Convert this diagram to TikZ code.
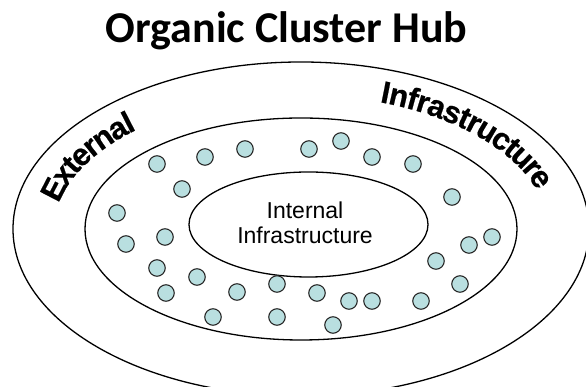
\documentclass[tikz,border=0pt]{standalone}
\usepackage{fontspec}
\setmainfont{Liberation Sans}
\newfontfamily\titlefont{Carlito}
\newfontfamily\arcfont[FakeBold=0.6]{Liberation Sans Bold}
\usetikzlibrary{shapes.geometric,decorations.text}
\definecolor{dotfill}{HTML}{B9DFE0}
\definecolor{dotline}{HTML}{2A2A2A}
\begin{document}
\begin{tikzpicture}[x=1pt,y=1pt,
  ring/.style={draw=black,line width=1.3pt,ellipse,inner sep=0pt},
  dot/.style={circle,draw=dotline,line width=1.1pt,fill=dotfill,minimum size=16.5pt,inner sep=0pt},
  curvetext/.style={decorate,decoration={text along path,text align=left,raise=-20pt,text={#1}}}]
\useasboundingbox (0,0) rectangle (586,387);
\clip (0,0) rectangle (586,387);
% title
\node[font=\titlefont\bfseries\fontsize{44}{44}\selectfont,anchor=base,inner sep=0pt] (title) at (286.5,344) {Organic Cluster Hub};
% rings
\node[ring,minimum width=576,minimum height=334] (outer) at (301,158) {};
\node[ring,minimum width=432,minimum height=222] (middle) at (301,158) {};
\node[ring,minimum width=239,minimum height=105] (inner) at (308.5,162.5) {};
\node[font=\fontsize{23}{25}\selectfont,align=center,inner sep=0pt] (innerlabel) at (305,164) {Internal\\Infrastructure};
% curved labels
\begingroup
\arcfont\fontsize{31}{31}\selectfont
\path[curvetext=External] (301,158) ++(167:267 and 154) arc[start angle=167,end angle=95,x radius=267,y radius=154];
\path[curvetext=Infrastructure] (301,158) ++(72:267 and 154) arc[start angle=72,end angle=-5,x radius=267,y radius=154];
\endgroup
% dots (pixel coords, y flipped)
\foreach \n/\px/\py in {1/157/164,2/205/157,3/245/149,4/182/189,5/117/213,6/126/244,7/165/237,
  8/157/268,9/197/277,10/166/293,11/237/292,12/277/284,13/213/317,14/277/317,
  15/309/149,16/341/141,17/372/157,18/413/164,19/452/197,20/492/237,21/469/245,
  22/436/261,23/460/284,24/317/293,25/349/301,26/372/301,27/421/301,28/333/325}
  \node[dot] (d\n) at (\px,387-\py) {};
\end{tikzpicture}
\end{document}
